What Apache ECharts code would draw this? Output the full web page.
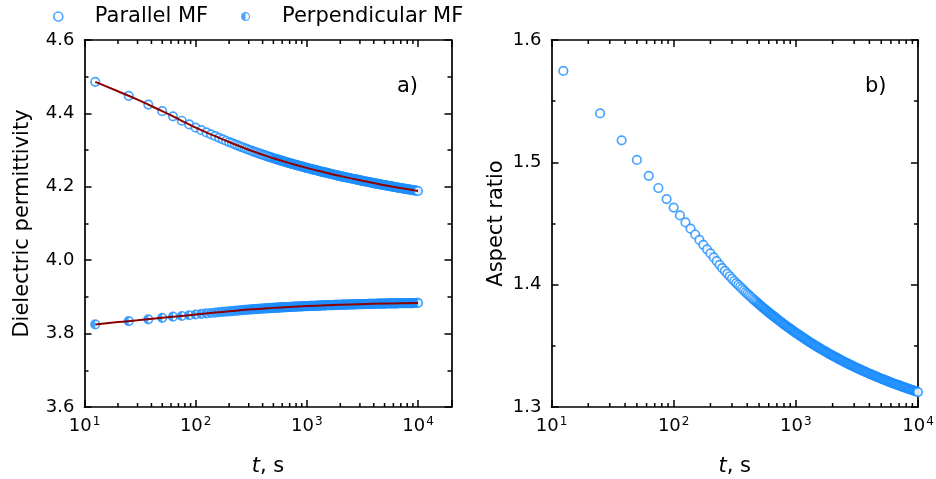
<!DOCTYPE html>
<html>
<head>
<meta charset="utf-8">
<script src="https://cdn.jsdelivr.net/npm/echarts@6/dist/echarts.min.js"></script>
<style>
  html, body { margin: 0; padding: 0; background: #fff; }
  #chart { width: 936px; height: 479px; }
</style>
</head>
<body>
<div id="chart"></div>
<script>
// Relaxation time points, s
const time = [
  12.5, 25, 37.5, 50, 62.5, 75, 87.5, 100,
  112.5, 125, 137.5, 150, 162.5, 175, 187.5, 200,
  212.5, 225, 237.5, 250, 262.5, 275, 287.5, 300,
  312.5, 325, 337.5, 350, 362.5, 375, 387.5, 400,
  412.5, 425, 437.5, 450, 462.5, 475, 487.5, 500,
  513, 525, 537, 550, 562, 575, 589, 603, 617, 631,
  646, 661, 676, 692, 708, 724, 741, 759, 776, 794,
  813, 832, 851, 871, 891, 912, 933, 955, 977, 1000,
  1023, 1047, 1072, 1096, 1122, 1148, 1175, 1202, 1230, 1259,
  1288, 1318, 1349, 1380, 1413, 1445, 1479, 1514, 1549, 1585,
  1622, 1660, 1698, 1738, 1778, 1820, 1862, 1905, 1950, 1995,
  2042, 2089, 2138, 2188, 2239, 2291, 2344, 2399, 2455, 2512,
  2570, 2630, 2692, 2754, 2818, 2884, 2951, 3020, 3090, 3162,
  3236, 3311, 3388, 3467, 3548, 3631, 3715, 3802, 3890, 3981,
  4074, 4169, 4266, 4365, 4467, 4571, 4677, 4786, 4898, 5012,
  5129, 5248, 5370, 5495, 5623, 5754, 5888, 6026, 6166, 6310,
  6457, 6607, 6761, 6918, 7079, 7244, 7413, 7586, 7762, 7943,
  8128, 8318, 8511, 8710, 8913, 9120, 9333, 9550, 9772, 10000
];

// Dielectric permittivity, field parallel to the cell
const parallel = [
  4.486, 4.448, 4.424, 4.406, 4.392, 4.380, 4.370, 4.361,
  4.3543, 4.3482, 4.3429, 4.3379, 4.3334, 4.3293, 4.3255, 4.3220,
  4.3188, 4.3157, 4.3129, 4.3102, 4.3077, 4.3054, 4.3032, 4.3010,
  4.2990, 4.2971, 4.2954, 4.2937, 4.2921, 4.2905, 4.2890, 4.2875,
  4.2862, 4.2849, 4.2836, 4.2824, 4.2812, 4.2800, 4.2789, 4.2778,
  4.2768, 4.2758, 4.2749, 4.2740, 4.2731, 4.2721, 4.2712, 4.2703, 4.2693, 4.2684,
  4.2675, 4.2667, 4.2658, 4.2649, 4.2641, 4.2632, 4.2623, 4.2614, 4.2606, 4.2597,
  4.2589, 4.2581, 4.2572, 4.2564, 4.2556, 4.2548, 4.2540, 4.2531, 4.2523, 4.2515,
  4.2507, 4.2499, 4.2492, 4.2484, 4.2476, 4.2468, 4.2460, 4.2453, 4.2445, 4.2437,
  4.2430, 4.2422, 4.2415, 4.2407, 4.2400, 4.2393, 4.2385, 4.2378, 4.2370, 4.2363,
  4.2356, 4.2349, 4.2342, 4.2335, 4.2328, 4.2321, 4.2314, 4.2307, 4.2300, 4.2293,
  4.2286, 4.2280, 4.2273, 4.2266, 4.2260, 4.2253, 4.2246, 4.2240, 4.2233, 4.2226,
  4.2220, 4.2213, 4.2207, 4.2200, 4.2194, 4.2188, 4.2181, 4.2175, 4.2168, 4.2162,
  4.2156, 4.2150, 4.2144, 4.2138, 4.2132, 4.2125, 4.2119, 4.2113, 4.2107, 4.2101,
  4.2095, 4.2089, 4.2084, 4.2078, 4.2072, 4.2066, 4.2060, 4.2055, 4.2049, 4.2043,
  4.2038, 4.2032, 4.2027, 4.2021, 4.2016, 4.2010, 4.2005, 4.1999, 4.1994, 4.1988,
  4.1983, 4.1978, 4.1972, 4.1967, 4.1962, 4.1957, 4.1952, 4.1946, 4.1941, 4.1936,
  4.1931, 4.1926, 4.1921, 4.1916, 4.1911, 4.1906, 4.1901, 4.1896, 4.1891, 4.1886
];

// Dielectric permittivity, field perpendicular to the cell
const perpendicular = [
  3.825, 3.834, 3.839, 3.843, 3.846, 3.848, 3.850, 3.852,
  3.8535, 3.8549, 3.8561, 3.8573, 3.8583, 3.8593, 3.8601, 3.8608,
  3.8615, 3.8622, 3.8628, 3.8634, 3.8640, 3.8645, 3.8649, 3.8654,
  3.8658, 3.8662, 3.8665, 3.8669, 3.8672, 3.8675, 3.8678, 3.8681,
  3.8684, 3.8687, 3.8689, 3.8692, 3.8694, 3.8696, 3.8699, 3.8701,
  3.8703, 3.8705, 3.8706, 3.8708, 3.8710, 3.8712, 3.8714, 3.8715, 3.8717, 3.8719,
  3.8721, 3.8722, 3.8724, 3.8725, 3.8727, 3.8729, 3.8730, 3.8732, 3.8733, 3.8735,
  3.8736, 3.8738, 3.8739, 3.8741, 3.8742, 3.8743, 3.8745, 3.8746, 3.8748, 3.8749,
  3.8750, 3.8752, 3.8753, 3.8754, 3.8756, 3.8757, 3.8758, 3.8759, 3.8761, 3.8762,
  3.8763, 3.8764, 3.8766, 3.8767, 3.8768, 3.8769, 3.8770, 3.8772, 3.8773, 3.8774,
  3.8775, 3.8776, 3.8777, 3.8778, 3.8780, 3.8781, 3.8782, 3.8783, 3.8784, 3.8785,
  3.8786, 3.8787, 3.8788, 3.8789, 3.8790, 3.8791, 3.8792, 3.8793, 3.8794, 3.8795,
  3.8796, 3.8797, 3.8798, 3.8799, 3.8800, 3.8800, 3.8801, 3.8802, 3.8803, 3.8804,
  3.8805, 3.8806, 3.8806, 3.8807, 3.8808, 3.8809, 3.8810, 3.8810, 3.8811, 3.8812,
  3.8813, 3.8813, 3.8814, 3.8815, 3.8816, 3.8816, 3.8817, 3.8818, 3.8818, 3.8819,
  3.8820, 3.8820, 3.8821, 3.8821, 3.8822, 3.8823, 3.8823, 3.8824, 3.8824, 3.8825,
  3.8826, 3.8826, 3.8827, 3.8827, 3.8828, 3.8828, 3.8829, 3.8829, 3.8830, 3.8830,
  3.8831, 3.8831, 3.8832, 3.8832, 3.8833, 3.8833, 3.8834, 3.8834, 3.8835, 3.8835
];

// Aspect ratio of the particles
const aspect = [
  1.5747, 1.540, 1.518, 1.502, 1.489, 1.479, 1.470, 1.463,
  1.4566, 1.4509, 1.4458, 1.4410, 1.4366, 1.4326, 1.4289, 1.4255,
  1.4223, 1.4192, 1.4162, 1.4135, 1.4112, 1.4090, 1.4069, 1.4050,
  1.4030, 1.4013, 1.3998, 1.3982, 1.3967, 1.3953, 1.3939, 1.3926,
  1.3914, 1.3902, 1.3891, 1.3880, 1.3869, 1.3859, 1.3849, 1.3839,
  1.3830, 1.3821, 1.3813, 1.3805, 1.3797, 1.3788, 1.3780, 1.3772, 1.3763, 1.3755,
  1.3747, 1.3740, 1.3732, 1.3724, 1.3717, 1.3709, 1.3701, 1.3693, 1.3686, 1.3678,
  1.3671, 1.3664, 1.3656, 1.3649, 1.3642, 1.3635, 1.3628, 1.3620, 1.3613, 1.3606,
  1.3599, 1.3593, 1.3586, 1.3579, 1.3573, 1.3566, 1.3559, 1.3552, 1.3546, 1.3539,
  1.3533, 1.3527, 1.3520, 1.3514, 1.3508, 1.3502, 1.3496, 1.3489, 1.3483, 1.3477,
  1.3471, 1.3466, 1.3460, 1.3454, 1.3449, 1.3443, 1.3437, 1.3431, 1.3426, 1.3420,
  1.3415, 1.3409, 1.3404, 1.3399, 1.3394, 1.3388, 1.3383, 1.3378, 1.3372, 1.3367,
  1.3362, 1.3357, 1.3352, 1.3347, 1.3343, 1.3338, 1.3333, 1.3328, 1.3323, 1.3318,
  1.3314, 1.3309, 1.3305, 1.3300, 1.3296, 1.3291, 1.3287, 1.3282, 1.3278, 1.3273,
  1.3269, 1.3265, 1.3260, 1.3256, 1.3252, 1.3248, 1.3244, 1.3239, 1.3235, 1.3231,
  1.3227, 1.3223, 1.3219, 1.3215, 1.3212, 1.3208, 1.3204, 1.3200, 1.3196, 1.3192,
  1.3188, 1.3185, 1.3181, 1.3178, 1.3174, 1.3170, 1.3167, 1.3163, 1.3160, 1.3156,
  1.3153, 1.3149, 1.3146, 1.3142, 1.3139, 1.3136, 1.3132, 1.3129, 1.3125, 1.3122
];

// Fitted curves for the permittivity
const fitTime = [12.5, 20, 30, 50, 70, 100, 150, 200, 300, 500, 700, 1000, 1500, 2000, 3000, 5000, 7000, 10000];
const fitParallel = [4.486, 4.4603, 4.4373, 4.406, 4.3846, 4.361, 4.3379, 4.3220, 4.3010, 4.2778, 4.2645, 4.2515, 4.2381, 4.2292, 4.2177, 4.2044, 4.1965, 4.1886];
const fitPerpendicular = [3.825, 3.8315, 3.8362, 3.843, 3.8472, 3.852, 3.8573, 3.8608, 3.8654, 3.8701, 3.8727, 3.8749, 3.8771, 3.8785, 3.8803, 3.8819, 3.8827, 3.8835];

// Axis ranges and steps: [min, max, interval]
const permTicks = [3.6, 4.6, 0.2];
const aspectTicks = [1.3, 1.6, 0.1];
const panelTags = ['a)', 'b)'];

const FONT = 'DejaVu Sans';
const BLUE = '#1e8fff';
const FIT = '#8b0000';
const BLACK = '#000';

// Where the markers crowd into a continuous band, the rings are left unfilled
// so that they merge; the final marker keeps its white face.
const DENSE_FROM = 36;

function markers(ys) {
  return time.map((t, i) => {
    const item = { value: [t, ys[i]] };
    if (i >= DENSE_FROM && i < time.length - 1) item.itemStyle = { color: 'rgba(255,255,255,0)' };
    return item;
  });
}
const pair = (xs, ys) => xs.map((x, i) => [x, ys[i]]);

// Half-filled disc (left half) and ring-with-left-half icon
const HALF_DISC = 'path://M0,-10A10,10,0,0,0,0,10ZM10,0L10,0';
const HALF_ICON = 'path://M0,-10A10,10,0,1,1,0,10A10,10,0,1,1,0,-10ZM0,-7.5L0,7.5A7.5,7.5,0,0,0,0,-7.5Z';

function logLabel(v) {
  const e = Math.log10(v);
  const r = Math.round(e);
  if (Math.abs(e - r) > 1e-6) return '';
  return '{b|10}{s|' + r + '}';
}

const axisLine = { show: true, onZero: false, lineStyle: { color: BLACK, width: 1.7 } };
const majorTick = { show: true, inside: true, length: 7, lineStyle: { color: BLACK, width: 1.5 } };
const minorTick = { show: true, splitNumber: 2, length: 4, lineStyle: { color: BLACK, width: 1.5 } };

function xBottom(gi, max) {
  return {
    type: 'log', logBase: 10, gridIndex: gi, min: 10, max: max, position: 'bottom',
    axisLine, axisTick: majorTick, splitLine: { show: false },
    axisLabel: {
      margin: 9, formatter: logLabel, color: BLACK,
      rich: {
        b: { fontFamily: FONT, fontSize: 18, color: BLACK },
        s: { fontFamily: FONT, fontSize: 12, color: BLACK, padding: [0, 0, 9, 1] }
      }
    },
    name: '{i|t}{n|, s}', nameLocation: 'middle', nameGap: 49,
    nameTextStyle: {
      rich: {
        i: { fontFamily: FONT, fontSize: 21, fontStyle: 'italic', color: BLACK },
        n: { fontFamily: FONT, fontSize: 21, color: BLACK }
      }
    }
  };
}
function xTop(gi, max) {
  return {
    type: 'log', logBase: 10, gridIndex: gi, min: 10, max: max, position: 'top',
    axisLine, axisTick: majorTick, axisLabel: { show: false }, splitLine: { show: false }
  };
}
function yLeft(gi, ticks, name, gap) {
  return {
    type: 'value', gridIndex: gi, min: ticks[0], max: ticks[1], interval: ticks[2], position: 'left',
    axisLine, axisTick: majorTick, minorTick, splitLine: { show: false },
    axisLabel: { margin: 10, fontFamily: FONT, fontSize: 18, color: BLACK, formatter: v => v.toFixed(1) },
    name: name, nameLocation: 'middle', nameGap: gap,
    nameTextStyle: { fontFamily: FONT, fontSize: 21, color: BLACK }
  };
}
function yRight(gi, ticks) {
  return {
    type: 'value', gridIndex: gi, min: ticks[0], max: ticks[1], interval: ticks[2], position: 'right',
    axisLine, axisTick: majorTick, minorTick, axisLabel: { show: false }, splitLine: { show: false }
  };
}

const ring = { color: '#fff', borderColor: BLUE, borderWidth: 1.7 };
const SYM = 8.5;

const chart = echarts.init(document.getElementById('chart'), null, { renderer: 'canvas' });

chart.setOption({
  animation: false,
  backgroundColor: '#fff',
  grid: [
    { left: 84.5, top: 40, width: 367, height: 367, outerBoundsMode: 'none', containLabel: false },
    { left: 551.5, top: 40, width: 366.5, height: 367, outerBoundsMode: 'none', containLabel: false }
  ],
  xAxis: [xBottom(0, 20000), xTop(0, 20000), xBottom(1, 10000), xTop(1, 10000)],
  yAxis: [
    yLeft(0, permTicks, 'Dielectric permittivity', 51),
    yRight(0, permTicks),
    yLeft(1, aspectTicks, 'Aspect ratio', 44),
    yRight(1, aspectTicks)
  ],
  legend: [
    {
      left: 48, top: 1, itemWidth: 63, itemHeight: 9, selectedMode: false,
      textStyle: { fontFamily: FONT, fontSize: 21, color: BLACK },
      data: [{ name: 'Parallel MF', icon: 'circle', itemStyle: { color: '#fff', borderColor: BLUE, borderWidth: 1.6 } }]
    },
    {
      left: 236, top: 1, itemWidth: 63, itemHeight: 9, selectedMode: false,
      textStyle: { fontFamily: FONT, fontSize: 21, color: BLACK },
      data: [{ name: 'Perpendicular MF', icon: HALF_ICON, itemStyle: { color: BLUE, borderWidth: 0 } }]
    }
  ],
  series: [
    {
      name: 'Parallel MF', type: 'scatter', xAxisIndex: 0, yAxisIndex: 0,
      symbol: 'circle', symbolSize: SYM, itemStyle: ring, z: 2,
      data: markers(parallel)
    },
    {
      name: 'Perpendicular MF', type: 'scatter', xAxisIndex: 0, yAxisIndex: 0,
      symbol: 'circle', symbolSize: SYM, itemStyle: ring, z: 2,
      data: markers(perpendicular)
    },
    {
      name: 'Perpendicular MF (fill)', type: 'scatter', xAxisIndex: 0, yAxisIndex: 0,
      symbol: HALF_DISC, symbolSize: SYM, itemStyle: { color: BLUE }, z: 3, silent: true,
      data: pair(time, perpendicular)
    },
    {
      name: 'Parallel fit', type: 'line', xAxisIndex: 0, yAxisIndex: 0, smooth: true,
      symbol: 'none', lineStyle: { color: FIT, width: 2 }, z: 4, silent: true,
      data: pair(fitTime, fitParallel)
    },
    {
      name: 'Perpendicular fit', type: 'line', xAxisIndex: 0, yAxisIndex: 0, smooth: true,
      symbol: 'none', lineStyle: { color: FIT, width: 2 }, z: 4, silent: true,
      data: pair(fitTime, fitPerpendicular)
    },
    {
      name: 'Aspect ratio', type: 'scatter', xAxisIndex: 2, yAxisIndex: 2,
      symbol: 'circle', symbolSize: SYM, itemStyle: ring, z: 2,
      data: markers(aspect)
    }
  ]
});

// Logarithmic minor ticks (2..9 in each decade) on bottom and top axes
function minorLogTicks(xi, yi, yMin, yMax, xMax) {
  const els = [];
  [10, 100, 1000, 10000].forEach(d => {
    for (let k = 2; k <= 9; k++) {
      const v = k * d;
      if (v >= xMax) continue;
      const b = chart.convertToPixel({ xAxisIndex: xi, yAxisIndex: yi }, [v, yMin]);
      const t = chart.convertToPixel({ xAxisIndex: xi, yAxisIndex: yi }, [v, yMax]);
      [[b[1], b[1] - 4], [t[1], t[1] + 4]].forEach(([y1, y2]) => {
        els.push({
          type: 'line', silent: true, z: 10,
          shape: { x1: b[0], y1: y1, x2: b[0], y2: y2 },
          style: { stroke: BLACK, lineWidth: 1.5 }
        });
      });
    }
  });
  return els;
}

const tagStyle = { font: '21px ' + FONT, fill: BLACK };
chart.setOption({
  graphic: [
    ...minorLogTicks(0, 0, permTicks[0], permTicks[1], 20000),
    ...minorLogTicks(2, 2, aspectTicks[0], aspectTicks[1], 10000),
    { type: 'text', left: 397, top: 76, silent: true, style: Object.assign({ text: panelTags[0] }, tagStyle) },
    { type: 'text', left: 865, top: 76, silent: true, style: Object.assign({ text: panelTags[1] }, tagStyle) }
  ]
});
</script>
</body>
</html>
